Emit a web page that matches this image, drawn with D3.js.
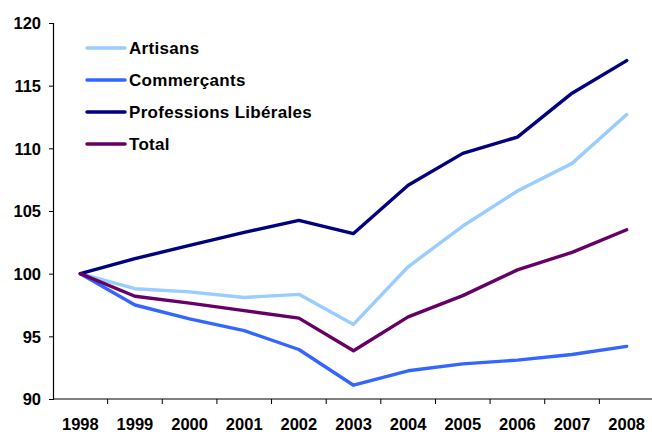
<!DOCTYPE html>
<html>
<head>
<meta charset="utf-8">
<script src="https://cdn.jsdelivr.net/npm/d3@7"></script>
<style>
body { margin: 0; background: #fff; }
svg text { font-family: "Liberation Sans", Arial, sans-serif; font-weight: bold; fill: #000; }
</style>
</head>
<body>
<svg id="chart" width="652" height="432"></svg>
<script>
// chart data
var years = ['1998', '1999', '2000', '2001', '2002', '2003', '2004', '2005', '2006', '2007', '2008'];
var artisans = [100, 98.8, 98.55, 98.1, 98.35, 95.95, 100.55, 103.8, 106.6, 108.8, 112.7];
var commercants = [100, 97.5, 96.4, 95.45, 93.95, 91.1, 92.25, 92.8, 93.1, 93.55, 94.2];
var liberales = [100, 101.2, 102.25, 103.3, 104.25, 103.2, 107.05, 109.6, 110.9, 114.4, 117.0];
var total = [100, 98.2, 97.65, 97.05, 96.45, 93.85, 96.55, 98.25, 100.3, 101.7, 103.5];
var yTicks = [90, 95, 100, 105, 110, 115, 120];

var series = [
	{ name: 'Artisans', values: artisans, color: '#99ccff' },
	{ name: 'Commerçants', values: commercants, color: '#3366ff' },
	{ name: 'Professions Libérales', values: liberales, color: '#000080' },
	{ name: 'Total', values: total, color: '#660066' }
];

var svg = d3.select('svg#chart');

// scales: one band per year, points at band centers
var x = d3.scaleBand().domain(years).range([53, 654]);
var y = d3.scaleLinear().domain([90, 120]).range([399, 23]);

// y axis
svg.append('g').attr('transform', 'translate(53,0)')
	.call(d3.axisLeft(y).tickValues(yTicks).tickSize(4).tickPadding(8))
	.call(function(g) {
		g.select('.domain').attr('stroke', '#000').attr('stroke-width', 1.2);
		g.selectAll('line').attr('stroke', '#000');
		g.selectAll('text').style('font-size', '16.5px').attr('dy', '0.36em');
	});

// x axis with ticks at band boundaries
var xAxis = svg.append('g').attr('transform', 'translate(0,399)');
xAxis.append('line').attr('x1', 53).attr('x2', 654).attr('stroke', '#000').attr('stroke-width', 1.2);
xAxis.selectAll('line.tick').data(years.slice(1)).enter().append('line')
	.attr('class', 'tick')
	.attr('x1', function(d) { return x(d); })
	.attr('x2', function(d) { return x(d); })
	.attr('y1', 0).attr('y2', 5)
	.attr('stroke', '#000');
xAxis.selectAll('text').data(years).enter().append('text')
	.attr('x', function(d) { return x(d) + x.bandwidth() / 2; })
	.attr('y', 31)
	.attr('text-anchor', 'middle')
	.style('font-size', '16.5px')
	.text(function(d) { return d; });

// lines
var line = d3.line()
	.x(function(d, i) { return x(years[i]) + x.bandwidth() / 2; })
	.y(function(d) { return y(d); });

svg.selectAll('path.series').data(series).enter().append('path')
	.attr('class', 'series')
	.attr('d', function(d) { return line(d.values); })
	.attr('fill', 'none')
	.attr('stroke', function(d) { return d.color; })
	.attr('stroke-width', 3.4)
	.attr('stroke-linejoin', 'round')
	.attr('stroke-linecap', 'round');

// legend
var legend = svg.selectAll('g.legend').data(series).enter().append('g')
	.attr('class', 'legend')
	.attr('transform', function(d, i) { return 'translate(87,' + (48 + i * 32) + ')'; });

legend.append('line')
	.attr('x1', 0).attr('x2', 38)
	.attr('stroke', function(d) { return d.color; })
	.attr('stroke-width', 3.4)
	.attr('stroke-linecap', 'round');

legend.append('text')
	.attr('x', 42).attr('dy', '0.36em')
	.style('font-size', '17px')
	.style('letter-spacing', '0.3px')
	.text(function(d) { return d.name; });
</script>
</body>
</html>
